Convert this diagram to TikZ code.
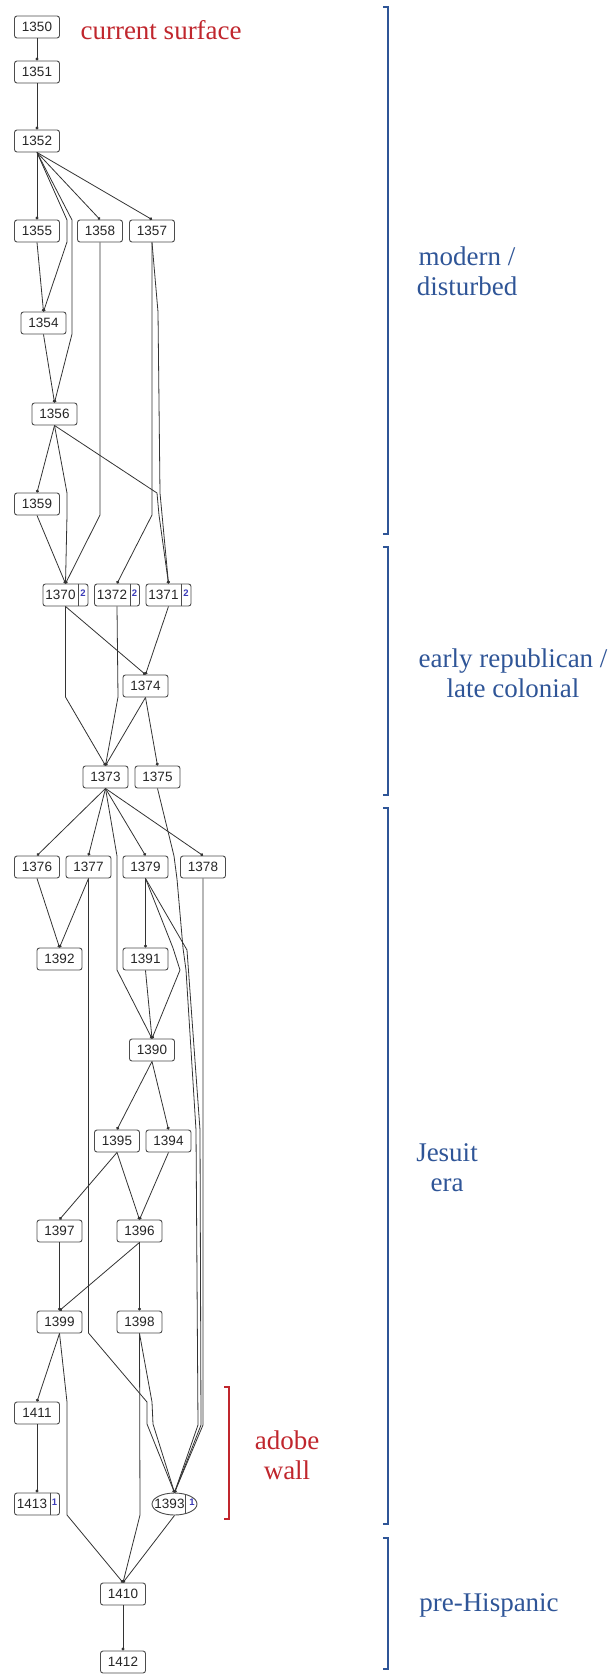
\documentclass[tikz,border=0pt]{standalone}
\usepackage{fontspec}
\setmainfont{Liberation Serif}
\newfontfamily\unitfont{Liberation Sans}
\usetikzlibrary{arrows.meta, shapes.geometric}
\definecolor{period}{HTML}{2F5597}
\definecolor{wall}{HTML}{C0262D}
\definecolor{cnt}{HTML}{3A3AB8}
\definecolor{edgegray}{HTML}{333333}
% unit number with a small count field on the right
\newcommand{\counted}[2]{\makebox[0pt]{\makebox[35pt]{#1}\makebox[10pt]{\raisebox{3pt}{\fontsize{9.5}{9.5}\selectfont\bfseries\color{cnt}#2}}}}

\begin{document}
\begin{tikzpicture}[x=1pt, y=-1pt,
    unit/.style={draw=black!70, line width=0.9pt, rounded corners=2.5pt, fill=white,
                 minimum width=45pt, minimum height=22pt, inner sep=0pt,
                 text=black!85, font=\unitfont\fontsize{13.5}{15}\selectfont},
    pit/.style={unit, ellipse, rounded corners=0pt},
    divider/.style={draw=black!70, line width=0.9pt},
    edge/.style={draw=edgegray, line width=0.8pt, -{Circle[length=3pt]}},
    bracket/.style={line width=2.2pt, period, line join=miter},
    wallbracket/.style={line width=2.2pt, wall, line join=miter},
    period label/.style={align=center, text=period, font=\fontsize{27}{30}\selectfont},
    wall label/.style={align=center, text=wall, font=\fontsize{27}{30}\selectfont}]
  \useasboundingbox (0,0) rectangle (612,1674);

  % units
  \node[unit] (u1350) at (37,27) {1350};
  \node[unit] (u1351) at (37,72) {1351};
  \node[unit] (u1352) at (37,141) {1352};
  \node[unit] (u1355) at (37,231) {1355};
  \node[unit] (u1358) at (100,231) {1358};
  \node[unit] (u1357) at (152,231) {1357};
  \node[unit] (u1354) at (43.5,323) {1354};
  \node[unit] (u1356) at (54.5,414) {1356};
  \node[unit] (u1359) at (37,504) {1359};
  \node[unit] (u1370) at (65.5,595) {\counted{1370}{2}};
  \node[unit] (u1372) at (117,595) {\counted{1372}{2}};
  \node[unit] (u1371) at (168.5,595) {\counted{1371}{2}};
  \node[unit] (u1374) at (145.5,686) {1374};
  \node[unit] (u1373) at (105.5,777) {1373};
  \node[unit] (u1375) at (157.5,777) {1375};
  \node[unit] (u1376) at (37,867) {1376};
  \node[unit] (u1377) at (88.5,867) {1377};
  \node[unit] (u1379) at (145.5,867) {1379};
  \node[unit] (u1378) at (203,867) {1378};
  \node[unit] (u1392) at (59.5,959) {1392};
  \node[unit] (u1391) at (145.5,959) {1391};
  \node[unit] (u1390) at (152,1050) {1390};
  \node[unit] (u1395) at (117,1141) {1395};
  \node[unit] (u1394) at (168.5,1141) {1394};
  \node[unit] (u1397) at (59.5,1231) {1397};
  \node[unit] (u1396) at (139.5,1231) {1396};
  \node[unit] (u1399) at (59.5,1322) {1399};
  \node[unit] (u1398) at (139.5,1322) {1398};
  \node[unit] (u1411) at (37,1413) {1411};
  \node[unit] (u1413) at (37,1504) {\counted{1413}{1}};
  \node[pit] (u1393) at (174.5,1504) {\counted{1393}{1}};
  \node[unit] (u1410) at (123,1594) {1410};
  \node[unit] (u1412) at (123,1662) {1412};
  \foreach \u in {1370,1372,1371,1413}
    \draw[divider] ([xshift=-10pt]u\u.north east) -- ([xshift=-10pt]u\u.south east);
  \draw[divider] ([shift={(10.5pt,9.7pt)}]u1393.center) -- ([shift={(10.5pt,-9.7pt)}]u1393.center);

  % stratigraphic relations
  \draw[edge] (u1350.south) -- (u1351.north);
  \draw[edge] (u1351.south) -- (u1352.north);
  \draw[edge] (u1352.south) -- (u1355.north);
  \draw[edge] (u1352.south) -- (u1358.north);
  \draw[edge] (u1352.south) -- (u1357.north);
  \draw[edge] (u1352.south) -- (67,220) -- (67,242) -- (u1354.north);
  \draw[edge] (u1352.south) -- (72,220) -- (72,334) -- (u1356.north);
  \draw[edge] (u1355.south) -- (u1354.north);
  \draw[edge] (u1354.south) -- (u1356.north);
  \draw[edge] (u1356.south) -- (u1359.north);
  \draw[edge] (u1356.south) -- (67,493) -- (67,515) -- (u1370.north);
  \draw[edge] (u1356.south) -- (157,493) -- (159,515) -- (u1371.north);
  \draw[edge] (u1358.south) -- (100,515) -- (u1370.north);
  \draw[edge] (u1357.south) -- (152,515) -- (u1372.north);
  \draw[edge] (u1357.south) -- (158,312) -- (160,493) -- (u1371.north);
  \draw[edge] (u1359.south) -- (u1370.north);
  \draw[edge] (u1370.south) -- (u1374.north);
  \draw[edge] (u1371.south) -- (u1374.north);
  \draw[edge] (u1370.south) -- (65.5,697) -- (u1373.north);
  \draw[edge] (u1372.south) -- (118,697) -- (u1373.north);
  \draw[edge] (u1374.south) -- (u1373.north);
  \draw[edge] (u1374.south) -- (u1375.north);
  \draw[edge] (u1373.south) -- (u1376.north);
  \draw[edge] (u1373.south) -- (u1377.north);
  \draw[edge] (u1373.south) -- (u1379.north);
  \draw[edge] (u1373.south) -- (u1378.north);
  \draw[edge] (u1373.south) -- (117,856) -- (117,970) -- (u1390.north);
  \draw[edge] (u1375.south) -- (174,856) -- (177,879) -- (183,948) -- (186,970)
    -- (196,1130) -- (198,1425) -- (u1393.north);
  \draw[edge] (u1379.south) -- (173,948) -- (180,970) -- (u1390.north);
  \draw[edge] (u1379.south) -- (187,950) -- (200,1130) -- (201,1425) -- (u1393.north);
  \draw[edge] (u1378.south) -- (203,1425) -- (u1393.north);
  \draw[edge] (u1377.south) -- (88.5,1333) -- (147,1402) -- (147,1424) -- (u1393.north);
  \draw[edge] (u1376.south) -- (u1392.north);
  \draw[edge] (u1377.south) -- (u1392.north);
  \draw[edge] (u1379.south) -- (u1391.north);
  \draw[edge] (u1391.south) -- (u1390.north);
  \draw[edge] (u1390.south) -- (u1395.north);
  \draw[edge] (u1390.south) -- (u1394.north);
  \draw[edge] (u1395.south) -- (u1397.north);
  \draw[edge] (u1395.south) -- (u1396.north);
  \draw[edge] (u1394.south) -- (u1396.north);
  \draw[edge] (u1397.south) -- (u1399.north);
  \draw[edge] (u1396.south) -- (u1399.north);
  \draw[edge] (u1396.south) -- (u1398.north);
  \draw[edge] (u1399.south) -- (u1411.north);
  \draw[edge] (u1399.south) -- (67,1402) -- (67,1515) -- (u1410.north);
  \draw[edge] (u1398.south) -- (152,1402) -- (153,1424) -- (u1393.north);
  \draw[edge] (u1398.south) -- (140,1515) -- (u1410.north);
  \draw[edge] (u1411.south) -- (u1413.north);
  \draw[edge] (u1393.south) -- (u1410.north);
  \draw[edge] (u1410.south) -- (u1412.north);

  % periods
  \node[wall label, anchor=west] (surface) at (77,30) {current surface};
  \draw[bracket] (383,7) -- (388,7) -- (388,534) -- (383,534);
  \node[period label] (modern) at (467,271) {modern /\\disturbed};
  \draw[bracket] (383,547) -- (388,547) -- (388,795) -- (383,795);
  \node[period label] (republican) at (513,673) {early republican /\\late colonial};
  \draw[bracket] (383,808) -- (388,808) -- (388,1524) -- (383,1524);
  \node[period label] (jesuit) at (447,1168) {Jesuit\\era};
  \draw[bracket] (383,1538) -- (388,1538) -- (388,1669) -- (383,1669);
  \node[period label] (prehispanic) at (489,1605) {pre-Hispanic};
  \draw[wallbracket] (224,1387) -- (229,1387) -- (229,1519) -- (224,1519);
  \node[wall label] (adobe) at (287,1455) {adobe\\wall};
\end{tikzpicture}
\end{document}
